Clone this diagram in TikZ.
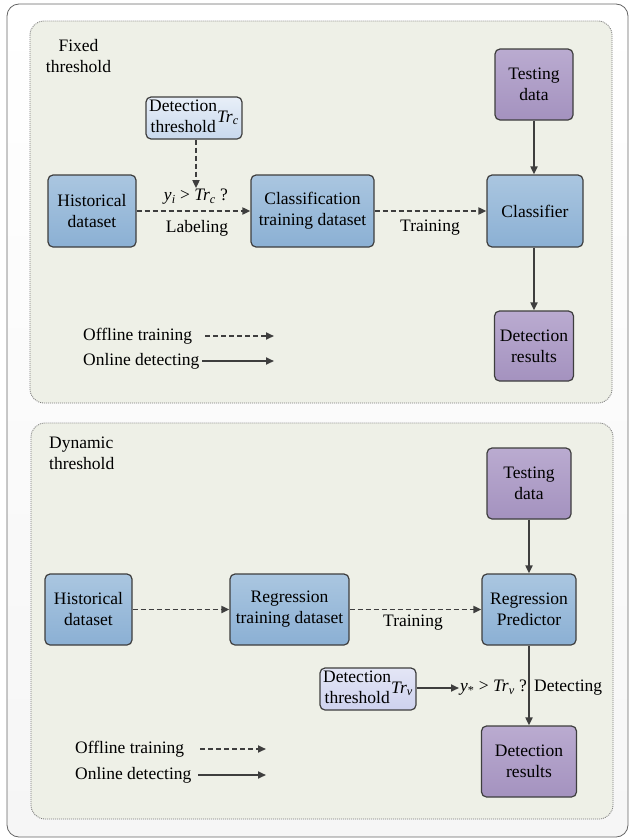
\documentclass[tikz,border=0pt]{standalone}
\usepackage{fontspec}
\setmainfont{Liberation Serif}
\newfontfamily\labelface{Liberation Serif}
\usetikzlibrary{arrows.meta}

\definecolor{edge}{HTML}{3E3E3E}
\definecolor{panelfill}{HTML}{EEF0E7}
\definecolor{paneledge}{HTML}{7A7A7A}
\definecolor{outerfill}{HTML}{F6F6F6}
\definecolor{blueT}{HTML}{AAC6E0}
\definecolor{blueB}{HTML}{8BB0D4}
\definecolor{purpT}{HTML}{BAABD0}
\definecolor{purpB}{HTML}{A492BF}
\definecolor{thrT}{HTML}{E8EFF8}
\definecolor{thrB}{HTML}{C8D8ED}
\definecolor{thrvT}{HTML}{E4E6F6}
\definecolor{thrvB}{HTML}{CDD1EE}

\newcommand{\txtsize}{\labelface\fontsize{17.5}{21}\selectfont}

\begin{document}
\begin{tikzpicture}[x=1pt,y=-1pt,
  font=\txtsize,
  box/.style={draw=edge, line width=1.2pt, rounded corners=5pt, align=center,
              inner sep=0pt, text=black},
  bluebox/.style={box, top color=blueT, bottom color=blueB},
  purplebox/.style={box, top color=purpT, bottom color=purpB},
  thrbox/.style={box, top color=thrT, bottom color=thrB, minimum width=96pt, minimum height=42pt},
  thrvbox/.style={box, top color=thrvT, bottom color=thrvB, minimum width=96pt, minimum height=42pt},
  panel/.style={draw=paneledge, fill=panelfill, line width=0.8pt,
                dash pattern=on 1pt off 1pt, rounded corners=14pt},
  conn/.style={draw=edge, line width=1.8pt, -{Triangle[length=8pt,width=7pt]}},
  offline/.style={conn, dash pattern=on 5pt off 3pt},
  online/.style={conn},
  lbl/.style={inner sep=1pt, text=black},
]
\useasboundingbox (0,0) rectangle (629,838);

% outer frame and the two panels
\draw[draw=edge!80, line width=0.8pt, rounded corners=12pt, top color=white, bottom color=outerfill]
  (7,4) rectangle (628,837);
\draw[panel] (30,21) rectangle (612,403);
\draw[panel] (31,423) rectangle (613,819);

% ---------------- fixed threshold ----------------
\node[lbl, align=center] (title1) at (78.5,56) {Fixed\\threshold};

\node[bluebox, minimum width=88pt, minimum height=72pt] (hist1) at (92,211) {Historical\\dataset};
\node[bluebox, minimum width=123pt, minimum height=72pt] (cls1) at (312.5,211) {Classification\\training dataset};
\node[bluebox, minimum width=96pt, minimum height=72pt] (clf1) at (535,211) {Classifier};
\node[purplebox, minimum width=78pt, minimum height=71pt] (test1) at (534,84.5) {Testing\\data};
\node[purplebox, minimum width=79pt, minimum height=70pt] (res1) at (534,346) {Detection\\results};
\node[thrbox] (thr1) at (194,118)
  {\begin{tabular}{@{}c@{}}Detection\\threshold\end{tabular}\textit{Tr}\textsubscript{\textit{c}}};

\node[lbl] (cond1) at (196,197) {\textit{y}\textsubscript{\textit{i}} > \textit{Tr}\textsubscript{\textit{c}} ?};
\node[lbl] (labl1) at (197,228) {Labeling};
\node[lbl] (train1) at (430,228) {Training};

\draw[offline] (thr1.south -| cond1.north) -- (cond1.north);
\draw[offline] (hist1) -- (cls1);
\draw[offline] (cls1) -- (clf1);
\draw[online] (test1) -- (clf1.north -| test1);
\draw[online] (clf1.south -| res1) -- (res1);

% legend
\node[lbl, anchor=west] (off1) at (82,336) {Offline training};
\node[lbl, anchor=west] (on1) at (82,361) {Online detecting};
\coordinate (off1a) at (205,336);
\coordinate (off1b) at (274,336);
\coordinate (on1a) at (202,361);
\coordinate (on1b) at (274,361);
\draw[offline] (off1a) -- (off1b);
\draw[online] (on1a) -- (on1b);

% ---------------- dynamic threshold ----------------
\node[lbl, align=left, anchor=north west] (title2) at (48,436) {Dynamic\\threshold};

\node[purplebox, minimum width=84pt, minimum height=71pt] (test2) at (529,483.5) {Testing\\data};
\node[bluebox, minimum width=87pt, minimum height=71pt] (hist2) at (88.5,609.5) {Historical\\dataset};
\node[bluebox, minimum width=119pt, minimum height=71pt] (reg2) at (289.5,609.5) {Regression\\training dataset};
\node[bluebox, minimum width=94pt, minimum height=71pt] (pred2) at (529,609.5) {Regression\\Predictor};
\node[thrvbox] (thr2) at (368,689)
  {\begin{tabular}{@{}c@{}}Detection\\threshold\end{tabular}\textit{Tr}\textsubscript{\textit{v}}};
\node[purplebox, minimum width=95pt, minimum height=71pt] (res2) at (529,761.5) {Detection\\results};

\node[lbl, anchor=west] (cond2) at (459,688) {\textit{y}\textsubscript{*} > \textit{Tr}\textsubscript{\textit{v}} ?};
\node[lbl, anchor=west] (det2) at (533,688) {Detecting};
\node[lbl] (train2) at (413,623) {Training};

\draw[offline] (hist2) -- (reg2);
\draw[offline] (reg2) -- (pred2);
\draw[online] (test2) -- (pred2);
\draw[online] (pred2) -- (res2);
\draw[online] (thr2.east |- cond2.west) -- (cond2.west);

% legend
\node[lbl, anchor=west] (off2) at (74,749) {Offline training};
\node[lbl, anchor=west] (on2) at (74,775) {Online detecting};
\coordinate (off2a) at (200,749);
\coordinate (off2b) at (266,749);
\coordinate (on2a) at (198,775);
\coordinate (on2b) at (266,775);
\draw[offline] (off2a) -- (off2b);
\draw[online] (on2a) -- (on2b);
\end{tikzpicture}
\end{document}
